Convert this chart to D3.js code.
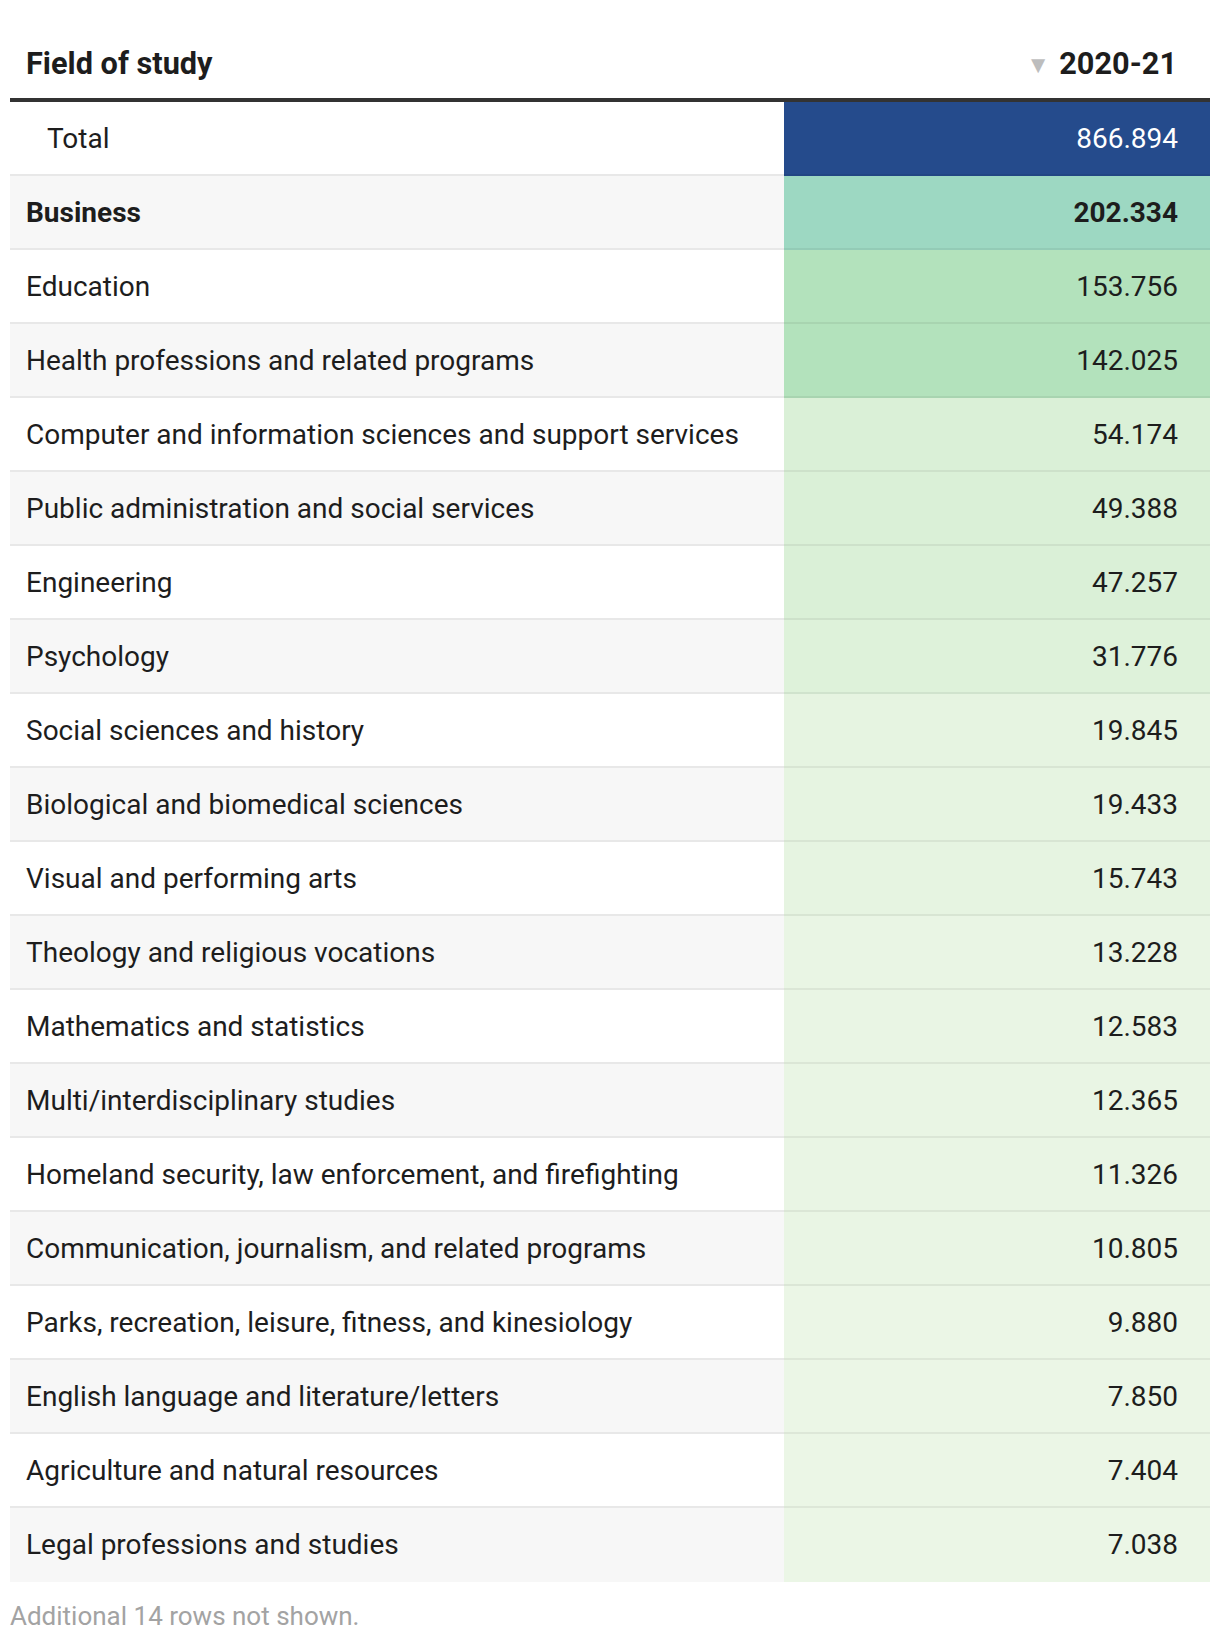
<!DOCTYPE html>
<html>
<head>
<meta charset="utf-8">
<script src="https://cdn.jsdelivr.net/npm/d3@7"></script>
<style>
  html, body { margin: 0; padding: 0; background: #fff; }
  svg { display: block; font-family: Roboto, "Noto Sans", sans-serif; }
</style>
</head>
<body>
<svg id="chart" width="1220" height="1640"></svg>
<script>
const headerLabel = "Field of study";
const headerValue = "2020-21";
const footerNote = "Additional 14 rows not shown.";

const fields = [
  "Total",
  "Business",
  "Education",
  "Health professions and related programs",
  "Computer and information sciences and support services",
  "Public administration and social services",
  "Engineering",
  "Psychology",
  "Social sciences and history",
  "Biological and biomedical sciences",
  "Visual and performing arts",
  "Theology and religious vocations",
  "Mathematics and statistics",
  "Multi/interdisciplinary studies",
  "Homeland security, law enforcement, and firefighting",
  "Communication, journalism, and related programs",
  "Parks, recreation, leisure, fitness, and kinesiology",
  "English language and literature/letters",
  "Agriculture and natural resources",
  "Legal professions and studies"
];
const values = [
  866.894, 202.334, 153.756, 142.025, 54.174, 49.388, 47.257, 31.776,
  19.845, 19.433, 15.743, 13.228, 12.583, 12.365, 11.326, 10.805,
  9.880, 7.850, 7.404, 7.038
];
const colorThresholds = [10, 15, 25, 40, 100, 200, 500];
const colorSteps = ["#ebf6e6", "#e9f5e4", "#e6f4e1", "#def2da", "#daf0d7", "#b3e2bc", "#9dd8c2", "#254b8c"];

const data = fields.map((f, i) => ({ field: f, value: values[i], i }));

const svg = d3.select("#chart");
const leftX = 10, rightX = 1210, valueX = 784;
const topY = 102, rowH = 74;

const y = d3.scaleBand().domain(d3.range(data.length)).range([topY, topY + rowH * data.length]).padding(0);
const color = d3.scaleThreshold().domain(colorThresholds).range(colorSteps);
const fmt = d3.format(",.3f");

// header
svg.append("text").attr("x", 26).attr("y", 74)
  .attr("font-size", 30.7).attr("font-weight", 700).attr("fill", "#1d1d1d")
  .text(headerLabel);
svg.append("text").attr("x", 1177).attr("y", 74).attr("text-anchor", "end")
  .attr("font-size", 30.7).attr("font-weight", 700).attr("fill", "#1d1d1d")
  .text(headerValue);
svg.append("text").attr("x", 1050).attr("y", 73).attr("text-anchor", "end")
  .attr("font-size", 24).attr("fill", "#bdbdbd").text("▼");

const rows = svg.append("g").selectAll("g").data(data).join("g")
  .attr("transform", d => `translate(0,${y(d.i)})`);

rows.append("rect").attr("x", leftX).attr("width", rightX - leftX).attr("height", rowH)
  .attr("fill", d => d.i % 2 === 0 ? "#ffffff" : "#f7f7f7");
rows.append("rect").attr("x", valueX).attr("width", rightX - valueX).attr("height", rowH)
  .attr("fill", d => color(d.value));
rows.filter(d => d.i < data.length - 1).append("rect")
  .attr("x", leftX).attr("width", valueX - leftX).attr("y", rowH - 2).attr("height", 2)
  .attr("fill", "#e8e8e8");
rows.filter(d => d.i < data.length - 1).append("rect")
  .attr("x", valueX).attr("width", rightX - valueX).attr("y", rowH - 2).attr("height", 2)
  .attr("fill", "rgba(0,0,0,0.06)");

rows.append("text")
  .attr("x", d => d.i === 0 ? 47 : 26)
  .attr("y", y.bandwidth() / 2 + 9)
  .attr("font-size", 28)
  .attr("font-weight", d => d.field === "Business" ? 700 : 400)
  .attr("fill", "#1d1d1d")
  .text(d => d.field);

rows.append("text")
  .attr("x", 1178)
  .attr("y", y.bandwidth() / 2 + 9)
  .attr("text-anchor", "end")
  .attr("font-size", 28)
  .attr("font-weight", d => d.field === "Business" ? 700 : 400)
  .attr("fill", d => d.i === 0 ? "#ffffff" : "#1d1d1d")
  .text(d => fmt(d.value));

// header rule
svg.append("rect").attr("x", leftX).attr("y", 98).attr("width", rightX - leftX).attr("height", 4).attr("fill", "#333333");

svg.append("text").attr("x", 10).attr("y", 1625)
  .attr("font-size", 26).attr("fill", "#a3a3a3").text(footerNote);
</script>
</body>
</html>
